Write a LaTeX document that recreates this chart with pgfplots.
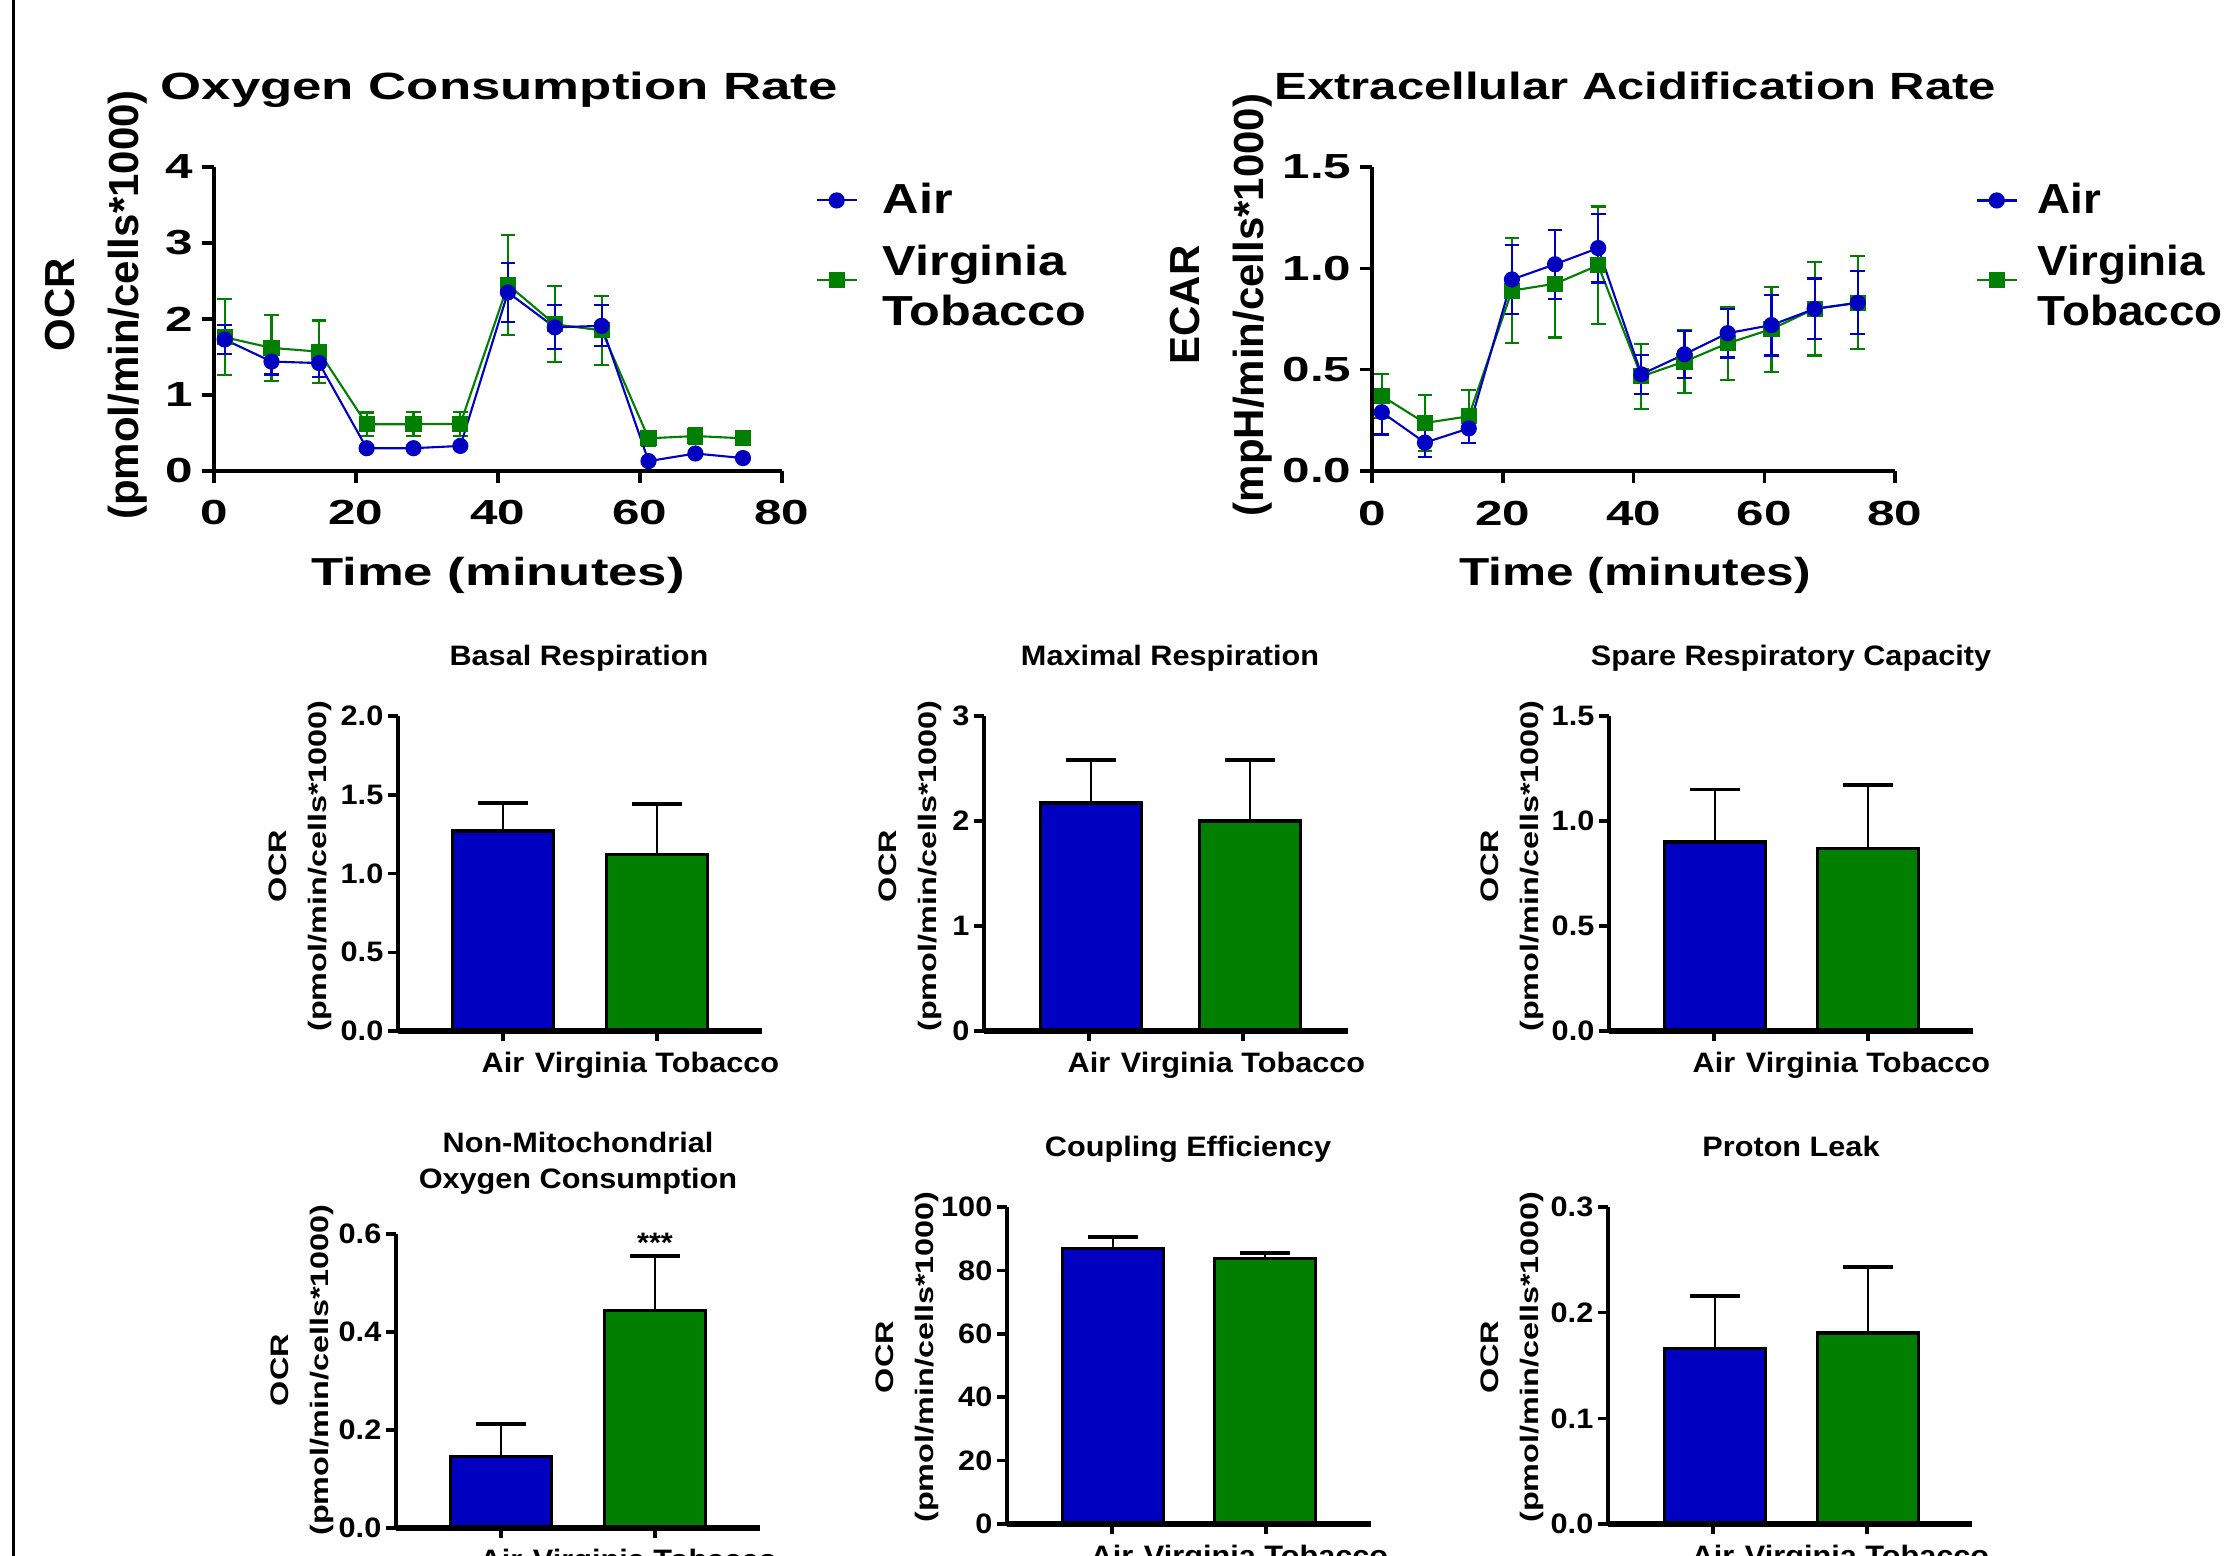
\documentclass[border=0pt]{standalone}
\usepackage{fontspec}
\setmainfont{Liberation Sans}
\newfontfamily\WtA[FakeStretch=1.39]{Liberation Sans}
\newfontfamily\WtB[FakeStretch=1.29]{Liberation Sans}
\newfontfamily\WtC[FakeStretch=1.27]{Liberation Sans}
\newfontfamily\Wt[FakeStretch=1.35]{Liberation Sans}
\newfontfamily\Tk[FakeStretch=1.42]{Liberation Sans}
\newfontfamily\Lg[FakeStretch=1.2]{Liberation Sans}
\newfontfamily\Lgb[FakeStretch=1.09]{Liberation Sans}
\newfontfamily\Bt[FakeStretch=1.09]{Liberation Sans}
\newfontfamily\Yl[FakeStretch=1.28]{Liberation Sans}
\usepackage{graphicx}
\usepackage{pgfplots}
\usepackage{pgfplotstable}
\pgfplotsset{compat=1.18}
\definecolor{cblue}{HTML}{0000C0}
\definecolor{cgreen}{HTML}{007F00}

\pgfplotstableread{
t air aire vt vte
1.5 1.73 0.19 1.76 0.50
8.1 1.44 0.17 1.62 0.43
14.8 1.42 0.18 1.57 0.41
21.5 0.30 0.03 0.615 0.155
28.1 0.30 0.03 0.615 0.16
34.7 0.33 0.03 0.62 0.16
41.4 2.35 0.39 2.45 0.66
48.0 1.89 0.29 1.93 0.50
54.6 1.91 0.27 1.85 0.45
61.2 0.13 0.03 0.43 0.10
67.8 0.23 0.03 0.46 0.10
74.5 0.17 0.03 0.43 0.05
}\ocrdata

\pgfplotstableread{
t air aire vt vte
1.5 0.29 0.11 0.37 0.11
8.1 0.14 0.07 0.237 0.14
14.8 0.21 0.07 0.27 0.13
21.4 0.945 0.17 0.89 0.26
28.0 1.02 0.17 0.924 0.265
34.6 1.10 0.17 1.015 0.29
41.2 0.477 0.096 0.467 0.16
47.8 0.576 0.115 0.54 0.155
54.4 0.68 0.12 0.63 0.18
61.1 0.72 0.15 0.70 0.21
67.7 0.80 0.15 0.80 0.23
74.3 0.83 0.155 0.83 0.23
}\ecardata

\pgfplotsset{
 topax/.style={
  scale only axis, anchor=south west, clip=false,
  axis x line*=bottom, axis y line*=left,
  axis line style={line width=1pt, black},
  every tick/.append style={black, line width=1pt},
  tick align=outside, major tick length=0.12cm,
  xmin=0, xmax=80, xtick={0,20,40,60,80}, ymin=0,
  /pgf/number format/assume math mode=true,
  ticklabel style={font=\Tk\bfseries\fontsize{9.9}{11}\selectfont, inner sep=0pt},
  yticklabel style={xshift=-0.08cm},
  xticklabel style={yshift=-0.17cm},
  legend style={draw=none, fill=none, inner sep=0pt, anchor=north west,
     font=\Lg\bfseries\fontsize{11.95}{14.3}\selectfont, column sep=0.25cm, row sep=0.22cm,
     nodes={inner sep=0pt}},
  legend cell align=left,
  legend image code/.code={\draw[mark repeat=2,mark phase=2] plot coordinates {(0cm,0cm) (0.2cm,0cm) (0.4cm,0cm)};},
  reverse legend,
 },
 airline/.style={cblue, line width=0.6pt, mark=*, mark size=2pt, mark options={solid, fill=cblue, draw=cblue},
   error bars/y dir=both, error bars/y explicit,
   error bars/error bar style={line width=0.6pt, cblue},
   error bars/error mark options={rotate=90, mark size=2.1pt, line width=0.6pt, cblue}},
 vtline/.style={cgreen, line width=0.6pt, mark=square*, mark size=2pt, mark options={solid, fill=cgreen, draw=cgreen},
   error bars/y dir=both, error bars/y explicit,
   error bars/error bar style={line width=0.6pt, cgreen},
   error bars/error mark options={rotate=90, mark size=2.1pt, line width=0.6pt, cgreen}},
 barax/.style={
  scale only axis, anchor=south west, clip=false, axis on top,
  width=3.64cm, xmin=0, xmax=364, ymin=0,
  axis x line*=bottom, axis y line*=left,
  axis line style={line width=1.1pt, black},
  x axis line style={line width=1.6pt},
  every tick/.append style={black, line width=1pt},
  tick align=outside, major tick length=0.1cm,
  xtick={105,259}, xticklabels={Air, Virginia Tobacco},
  /pgf/number format/assume math mode=true,
  ticklabel style={font=\Bt\bfseries\fontsize{8}{9.6}\selectfont, inner sep=0pt},
  yticklabel style={xshift=-0.04cm},
  xticklabel style={yshift=-0.1cm},
 },
 onedec/.style={yticklabel style={/pgf/number format/.cd, fixed, fixed zerofill, precision=1}},
 bblue/.style={ybar, bar width=101, bar shift=0pt, fill=cblue, draw=black, line width=1pt,
   error bars/y dir=plus, error bars/y explicit,
   error bars/error bar style={black, line width=0.7pt},
   error bars/error mark options={rotate=90, black, line width=1.1pt, mark size=0.25cm}},
 bgreen/.style={ybar, bar width=101, bar shift=0pt, fill=cgreen, draw=black, line width=1pt,
   error bars/y dir=plus, error bars/y explicit,
   error bars/error bar style={black, line width=0.7pt},
   error bars/error mark options={rotate=90, black, line width=1.1pt, mark size=0.25cm}},
}

\begin{document}
\begin{tikzpicture}
\useasboundingbox (0,0) rectangle (22.37cm,-15.56cm);
\clip (0,0) rectangle (22.37cm,-15.56cm);
\fill[white] (0,0) rectangle (22.37cm,-15.56cm);
\draw[line width=0.03cm] (0.13cm,0) -- (0.13cm,-15.56cm);

% ---------- OCR ----------
\begin{axis}[topax, at={(2.14cm,-4.71cm)}, width=5.68cm, height=3.04cm,
  ymax=4, ytick={0,1,2,3,4},
  legend style={at={(1.058,0.951)}}]
\addplot[vtline] table[x=t, y=vt, y error=vte] {\ocrdata};
\addlegendentry{\raisebox{0.14cm}{\begin{tabular}{@{}l@{}}Virginia\\Tobacco\end{tabular}}}
\addplot[airline] table[x=t, y=air, y error=aire] {\ocrdata};
\addlegendentry{Air}
\end{axis}

% ---------- ECAR ----------
\begin{axis}[topax, at={(13.72cm,-4.71cm)}, width=5.23cm, height=3.04cm,
  ymax=1.5, ytick={0,0.5,1,1.5},
  yticklabel style={/pgf/number format/.cd, fixed, fixed zerofill, precision=1},
  legend style={at={(1.153,0.951)}, column sep=0.2cm, font=\Lgb\bfseries\fontsize{11.95}{14.3}\selectfont}]
\addplot[vtline] table[x=t, y=vt, y error=vte] {\ecardata};
\addlegendentry{\raisebox{0.14cm}{\begin{tabular}{@{}l@{}}Virginia\\Tobacco\end{tabular}}}
\addplot[airline] table[x=t, y=air, y error=aire] {\ecardata};
\addlegendentry{Air}
\end{axis}

% ---------- Basal ----------
\begin{axis}[barax, onedec, at={(3.98cm,-10.31cm)}, height=3.15cm, ymax=2, ytick={0,0.5,1,1.5,2}]
\addplot[bblue] coordinates {(105,1.27) +- (0,0.18)};
\addplot[bgreen] coordinates {(259,1.12) +- (0,0.32)};
\end{axis}

% ---------- Maximal ----------
\begin{axis}[barax, at={(9.84cm,-10.31cm)}, height=3.15cm, ymax=3, ytick={0,1,2,3}]
\addplot[bblue] coordinates {(107,2.17) +- (0,0.41)};
\addplot[bgreen] coordinates {(266,2.00) +- (0,0.58)};
\end{axis}

% ---------- Spare ----------
\begin{axis}[barax, onedec, at={(16.09cm,-10.31cm)}, height=3.15cm, ymax=1.5, ytick={0,0.5,1,1.5}]
\addplot[bblue] coordinates {(106,0.90) +- (0,0.25)};
\addplot[bgreen] coordinates {(259,0.87) +- (0,0.30)};
\end{axis}

% ---------- Non-mito ----------
\begin{axis}[barax, onedec, at={(3.96cm,-15.28cm)}, height=2.94cm, ymax=0.6, ytick={0,0.2,0.4,0.6}]
\addplot[bblue] coordinates {(105,0.146) +- (0,0.067)};
\addplot[bgreen] coordinates {(259,0.444) +- (0,0.111)};
\node[anchor=base, inner sep=0pt, font=\Bt\bfseries\fontsize{8}{9.6}\selectfont] at (axis cs:259,0.562) {***};
\end{axis}

% ---------- Coupling ----------
\begin{axis}[barax, at={(10.07cm,-15.24cm)}, height=3.17cm, ymax=100, ytick={0,20,40,60,80,100}]
\addplot[bblue] coordinates {(106,86.9) +- (0,3.6)};
\addplot[bgreen] coordinates {(258,83.8) +- (0,1.8)};
\end{axis}

% ---------- Proton leak ----------
\begin{axis}[barax, onedec, at={(16.08cm,-15.24cm)}, height=3.17cm, ymax=0.3, ytick={0,0.1,0.2,0.3}]
\addplot[bblue] coordinates {(107,0.166) +- (0,0.050)};
\addplot[bgreen] coordinates {(260,0.181) +- (0,0.062)};
\end{axis}

% ---------- texts ----------
\node[anchor=base west, inner sep=0pt, font=\WtA\bfseries\fontsize{10.8}{13}\selectfont] at (1.60cm,-1.00cm) {Oxygen Consumption Rate};
\node[anchor=base west, inner sep=0pt, font=\WtB\bfseries\fontsize{10.8}{13}\selectfont] at (12.74cm,-1.00cm) {Extracellular Acidification Rate};
\node[rotate=90, align=center, inner sep=0pt, font=\bfseries\fontsize{11.95}{18.2}\selectfont] at (0.96cm,-3.05cm) {OCR\\(pmol/min/cells*1000)};
\node[rotate=90, align=center, inner sep=0pt, font=\bfseries\fontsize{11.95}{18.2}\selectfont] at (12.21cm,-3.05cm) {ECAR\\(mpH/min/cells*1000)};
\node[anchor=base, inner sep=0pt, font=\Wt\bfseries\fontsize{11.1}{13}\selectfont] at (4.98cm,-5.85cm) {Time (minutes)};
\node[anchor=base, inner sep=0pt, font=\WtC\bfseries\fontsize{11.1}{13}\selectfont] at (16.35cm,-5.85cm) {Time (minutes)};

\begin{scope}[every node/.style={anchor=base, inner sep=0pt, font=\Bt\bfseries\fontsize{8}{9.6}\selectfont}]
\node at (5.79cm,-6.65cm) {Basal Respiration};
\node at (11.70cm,-6.65cm) {Maximal Respiration};
\node at (17.91cm,-6.65cm) {Spare Respiratory Capacity};
\node at (5.78cm,-11.52cm) {Non-Mitochondrial};
\node at (5.78cm,-11.88cm) {Oxygen Consumption};
\node at (11.88cm,-11.56cm) {Coupling Efficiency};
\node at (17.91cm,-11.56cm) {Proton Leak};
\end{scope}

\begin{scope}[every node/.style={rotate=90, align=center, inner sep=0pt, font=\Yl\bfseries\fontsize{7.2}{11.4}\selectfont}]
\node at (3.00cm,-8.66cm) {OCR\\(pmol/min/cells*1000)};
\node at (9.10cm,-8.66cm) {OCR\\(pmol/min/cells*1000)};
\node at (15.12cm,-8.66cm) {OCR\\(pmol/min/cells*1000)};
\node at (3.02cm,-13.70cm) {OCR\\(pmol/min/cells*1000)};
\node at (9.07cm,-13.57cm) {OCR\\(pmol/min/cells*1000)};
\node at (15.12cm,-13.57cm) {OCR\\(pmol/min/cells*1000)};
\end{scope}
\end{tikzpicture}
\end{document}
